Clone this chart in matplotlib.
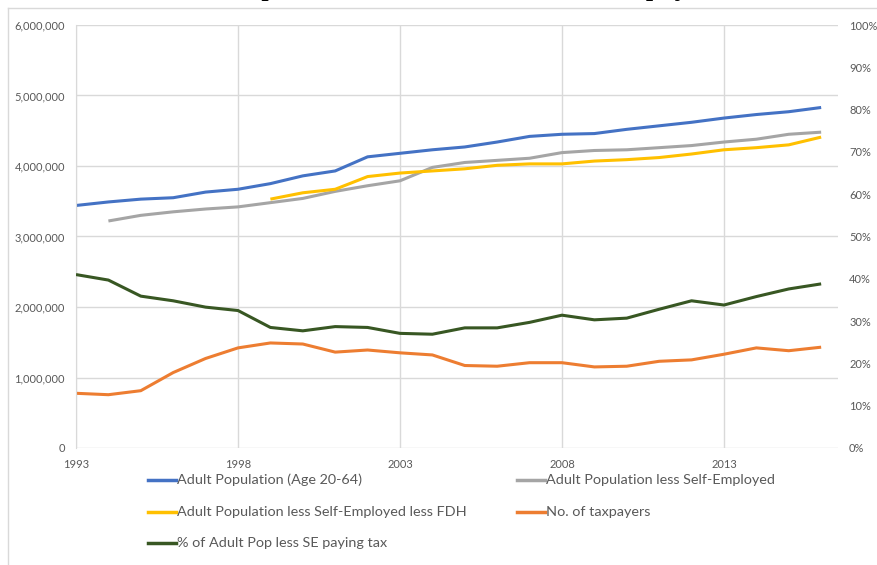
import numpy as np
import matplotlib
matplotlib.use("Agg")
import matplotlib.pyplot as plt
from matplotlib.lines import Line2D
from matplotlib.ticker import FuncFormatter, PercentFormatter

# data
years = list(range(1993, 2017))
nan = np.nan

adult_pop = [3.44, 3.49, 3.53, 3.55, 3.63, 3.67, 3.75, 3.86, 3.93, 4.13,
             4.18, 4.23, 4.27, 4.34, 4.42, 4.45, 4.46, 4.52, 4.57, 4.62,
             4.68, 4.73, 4.77, 4.83]
less_se = [nan, 3.22, 3.30, 3.35, 3.39, 3.42, 3.48, 3.54, 3.64, 3.72,
           3.79, 3.98, 4.05, 4.08, 4.11, 4.19, 4.22, 4.23, 4.26, 4.29,
           4.34, 4.38, 4.45, 4.48]
less_se_fdh = [nan, nan, nan, nan, nan, nan, 3.53, 3.62, 3.67, 3.85,
               3.90, 3.93, 3.96, 4.01, 4.03, 4.03, 4.07, 4.09, 4.12, 4.17,
               4.23, 4.26, 4.30, 4.41]
taxpayers = [0.776, 0.756, 0.813, 1.07, 1.27, 1.42, 1.49, 1.475, 1.36, 1.39,
             1.35, 1.32, 1.17, 1.16, 1.21, 1.21, 1.15, 1.16, 1.23, 1.25,
             1.33, 1.42, 1.38, 1.43]
pct_paying = [41.0, 39.7, 35.9, 34.8, 33.3, 32.5, 28.5, 27.7, 28.7, 28.5,
              27.1, 26.9, 28.4, 28.4, 29.7, 31.4, 30.3, 30.7, 32.8, 34.8,
              33.8, 35.8, 37.6, 38.8]

labels = ["Adult Population (Age 20-64)",
          "Adult Population less Self-Employed",
          "Adult Population less Self-Employed less FDH",
          "No. of taxpayers",
          "% of Adult Pop less SE paying tax"]
colors = ["#4472C4", "#A5A5A5", "#FFC000", "#ED7D31", "#385723"]
title = "Adult Population, Labour Force and Taxpayers"

plt.rcParams['font.family'] = ['Lato', 'DejaVu Sans']
tick_color = "#595959"
grid_color = "#D9D9D9"

fig = plt.figure(figsize=(8.77, 5.65), dpi=100)
ax = fig.add_axes([76 / 877, 1 - 448 / 565, (838 - 76) / 877, (448 - 25) / 565])
ax2 = ax.twinx()

lw = 2.2
left_series = [adult_pop, less_se, less_se_fdh, taxpayers]
for vals, c in zip(left_series, colors[:4]):
    ax.plot(years, np.array(vals) * 1e6, color=c, lw=lw, solid_joinstyle='round',
            solid_capstyle='butt')
ax2.plot(years, np.array(pct_paying) / 100, color=colors[4], lw=lw,
         solid_joinstyle='round', solid_capstyle='butt')

ax.set_xlim(1993, 2016.52)
ax.set_ylim(0, 6e6)
ax2.set_ylim(0, 1)
ax.set_xticks([1993, 1998, 2003, 2008, 2013])
ax.set_yticks(np.arange(0, 6e6 + 1, 1e6))
ax2.set_yticks(np.arange(0, 1.01, 0.1))
ax.yaxis.set_major_formatter(FuncFormatter(lambda v, p: f"{int(v):,}"))
ax2.yaxis.set_major_formatter(PercentFormatter(1.0, decimals=0))

ax.grid(True, color=grid_color, lw=1)
ax.set_axisbelow(True)
for a in (ax, ax2):
    for s in a.spines.values():
        s.set_visible(False)
    a.tick_params(length=0, colors=tick_color, labelsize=8)
ax.spines['left'].set_visible(True)
ax.spines['left'].set_color(grid_color)
ax.tick_params(axis='y', pad=8)
ax.tick_params(axis='x', pad=8)
ax2.tick_params(axis='y', pad=8)

# legend laid out as in the reference: two columns, row by row
col_x = [148 / 877, 517 / 877]
row_y = [1 - 480 / 565, 1 - 512 / 565, 1 - 543 / 565]
for i, (lab, c) in enumerate(zip(labels, colors)):
    x0 = col_x[i % 2]
    y0 = row_y[i // 2]
    fig.add_artist(Line2D([x0, x0 + 28 / 877], [y0, y0], color=c, lw=2.5,
                          transform=fig.transFigure))
    fig.text(x0 + 29 / 877, y0, lab, color=tick_color, fontsize=10.4,
             va='center', ha='left')

# chart frame and the cut-off title above it
fig.add_artist(Line2D([8 / 877, 8 / 877], [0, 1 - 8 / 565], color=grid_color,
                      lw=1, transform=fig.transFigure))
fig.add_artist(Line2D([8 / 877, 1], [1 - 8 / 565, 1 - 8 / 565], color=grid_color,
                      lw=1, transform=fig.transFigure))
fig.text(0.5, 1 + 6 / 565, title, family='Liberation Serif', fontsize=22,
         ha='center', va='baseline', color='black')

fig.savefig("out.png", dpi=100)
